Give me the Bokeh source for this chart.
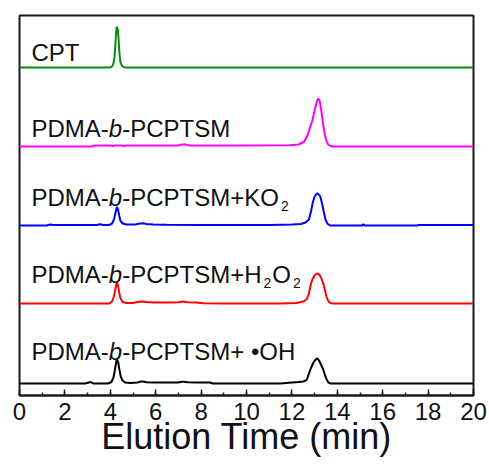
from bokeh.plotting import figure
from bokeh.models import ColumnDataSource, SingleIntervalTicker, Range1d
from bokeh.core.properties import value
from bokeh.embed import file_html
from bokeh.resources import INLINE

# ---------------- data ----------------
x_ticks_interval = 2

cpt_t = [0, 3.95, 4.05, 4.12, 4.18, 4.22, 4.26, 4.29, 4.31, 4.33, 4.36, 4.40, 4.45, 4.52, 4.62, 20]
cpt_s = [0, 0, 0.05, 0.25, 0.9, 2.2, 3.6, 4.1, 3.7, 3.9, 3.0, 1.5, 0.5, 0.15, 0, 0]

mag_t = [0, 3.2, 3.3, 4.0, 4.1, 4.2, 4.5, 4.6, 4.7, 7.0, 7.15, 7.3, 7.5, 9.5, 11.9, 12.3,
         12.55, 12.7, 12.8, 12.9, 13.0, 13.1, 13.16, 13.22, 13.3, 13.38, 13.45, 13.52,
         13.6, 13.7, 13.8, 20]
mag_s = [0, 0, 0.1, 0.1, 0.05, 0.1, 0.1, 0.05, 0.1, 0.1, 0.2, 0.2, 0.1, 0.1, 0.12, 0.2,
         0.5, 1.2, 1.9, 2.6, 3.6, 4.5, 4.8, 4.6, 3.5, 2.2, 1.2, 0.55,
         0.2, 0.05, 0, 0]

ko_t = [0, 1.2, 1.35, 1.5, 2.5, 3.4, 3.55, 3.7, 3.95, 4.08, 4.16, 4.22, 4.27, 4.3, 4.34,
        4.39, 4.45, 4.55, 4.7, 5.1, 5.3, 5.45, 5.6, 5.9, 6.5, 8.0, 9.5, 11.0, 12.0, 12.4,
        12.6, 12.75, 12.85, 12.92, 13.0, 13.08, 13.15, 13.25, 13.33, 13.4, 13.48, 13.56,
        13.66, 13.75, 15.1, 15.15, 15.2, 17.5, 17.6, 20]
ko_s = [0, 0, 0.1, 0.05, 0.05, 0.05, 0.12, 0.05, 0.05, 0.2, 0.6, 1.2, 1.7, 1.85, 1.6,
        1.0, 0.45, 0.2, 0.1, 0.1, 0.2, 0.22, 0.15, 0.1, 0.08, 0.05, 0.05, 0.05, 0.1, 0.15,
        0.3, 0.6, 1.5, 2.3, 2.9, 3.15, 3.2, 2.9, 2.2, 1.4, 0.6, 0.2,
        0.03, 0, 0, 0.12, 0, 0, 0.05, 0.05]

h2_t = [0, 2.0, 3.95, 4.08, 4.16, 4.22, 4.27, 4.3, 4.34, 4.39, 4.45, 4.55, 4.7, 5.0, 5.2,
        5.4, 5.6, 5.9, 6.5, 7.0, 7.2, 7.4, 7.8, 8.1, 9.0, 11.5, 12.2, 12.5, 12.65, 12.75,
        12.82, 12.9, 13.0, 13.08, 13.15, 13.22, 13.3, 13.38, 13.45, 13.52, 13.6, 13.7, 13.8, 20]
h2_s = [0, 0, 0, 0.2, 0.7, 1.4, 1.95, 2.1, 1.8, 1.1, 0.5, 0.15, 0.05, 0.05, 0.15,
        0.2, 0.15, 0.1, 0.1, 0.12, 0.2, 0.12, 0.1, 0.02, 0, 0, 0.05, 0.2, 0.4, 1.0,
        1.8, 2.4, 2.8, 2.95, 3.0, 2.85, 2.5, 2.0, 1.4, 0.7, 0.25, 0.05, 0, 0]

oh_t = [0, 2.9, 3.05, 3.15, 3.25, 3.9, 4.05, 4.14, 4.2, 4.25, 4.28, 4.31, 4.35, 4.4, 4.46,
        4.54, 4.65, 4.9, 5.2, 5.35, 5.45, 5.6, 5.9, 6.5, 7.0, 7.15, 7.25, 7.4, 7.8, 8.4,
        8.5, 9.5, 11.5, 12.0, 12.3, 12.5, 12.65, 12.75, 12.85, 12.95, 13.03, 13.1, 13.15,
        13.22, 13.3, 13.38, 13.45, 13.52, 13.6, 13.7, 20]
oh_s = [0, 0, 0.1, 0.15, 0, 0, 0.15, 0.6, 1.3, 2.0, 2.4, 2.3, 2.1, 1.4, 0.7,
        0.3, 0.1, 0.05, 0.1, 0.2, 0.2, 0.12, 0.1, 0.1, 0.1, 0.18, 0.18, 0.12, 0.1, 0.1,
        0, 0, 0, 0.1, 0.15, 0.2, 0.35, 1.0, 1.6, 2.1, 2.35, 2.5, 2.45,
        2.2, 1.8, 1.4, 0.9, 0.45, 0.12, 0, 0]

series_t = [cpt_t, mag_t, ko_t, h2_t, oh_t]
series_s = [cpt_s, mag_s, ko_s, h2_s, oh_s]
series_offset = [32.8, 24.9, 17.0, 9.2, 1.2]
series_color = ["#0a8a0a", "#ff00ff", "#0000ff", "#ff0000", "#000000"]

# label pieces: (text, kind) kind: n=normal, i=italic, s=subscript
labels = [
    [("CPT", "n")],
    [("PDMA-", "n"), ("b", "i"), ("-PCPTSM", "n")],
    [("PDMA-", "n"), ("b", "i"), ("-PCPTSM+KO", "n"), ("2", "s")],
    [("PDMA-", "n"), ("b", "i"), ("-PCPTSM+H", "n"), ("2", "s"), ("O", "n"), ("2", "s")],
    [("PDMA-", "n"), ("b", "i"), ("-PCPTSM+ \u2022OH", "n")],
]
label_baseline = [34.3, 26.7, 19.8, 12.1, 4.4]
label_x0 = 0.53

x_title = "Elution Time (min)"

# ---------------- figure ----------------
FW, FH = 454, 380
XMAX, YMAX = 20, 38
p = figure(frame_width=FW, frame_height=FH, output_backend="svg", toolbar_location=None,
           x_range=Range1d(0, XMAX), y_range=Range1d(0, YMAX), y_axis_location=None,
           min_border_left=19, min_border_top=15, min_border_right=15, min_border_bottom=0)
p.grid.visible = False
p.background_fill_color = "white"
p.border_fill_color = "white"
p.outline_line_color = "#1a1a1a"
p.outline_line_width = 2

for t, s, off, c in zip(series_t, series_s, series_offset, series_color):
    src = ColumnDataSource(dict(x=t, y=[v + off for v in s]))
    p.line("x", "y", source=src, line_color=c, line_width=2)

# text layout with Arial/Liberation metrics
W = {'P': 667, 'D': 722, 'M': 833, 'A': 667, '-': 333, 'b': 556, 'C': 722, 'T': 611,
     'S': 667, '+': 584, 'K': 667, 'O': 778, 'H': 722, '2': 556, '\u2022': 350, ' ': 278}
MAIN, SUB = 24, 14
pxx = XMAX / FW
pxy = YMAX / FH
groups = {"n": dict(x=[], y=[], text=[]), "i": dict(x=[], y=[], text=[]), "s": dict(x=[], y=[], text=[])}
for pieces, yb in zip(labels, label_baseline):
    cx = label_x0
    for txt, kind in pieces:
        size = SUB if kind == "s" else MAIN
        if kind == "s":
            cx += 2 * pxx
        dy = -8 * pxy if kind == "s" else 0
        groups[kind]["x"].append(cx)
        groups[kind]["y"].append(yb + dy)
        groups[kind]["text"].append(txt)
        cx += sum(W.get(ch, 600) for ch in txt) / 1000 * size * pxx
        if kind == "s":
            cx += 1 * pxx

for kind, g in groups.items():
    size = SUB if kind == "s" else MAIN
    p.text("x", "y", text="text", source=ColumnDataSource(g),
           text_font=value("Liberation Sans"), text_font_size=value(f"{size}px"),
           text_font_style="italic" if kind == "i" else "normal",
           text_color="#111111", text_baseline="alphabetic", text_align="left")

ax = p.xaxis[0]
ax.ticker = SingleIntervalTicker(interval=x_ticks_interval, num_minor_ticks=2)
ax.axis_line_width = 2
ax.axis_line_color = "#1a1a1a"
ax.major_tick_in = 6
ax.major_tick_out = 0
ax.minor_tick_in = 3
ax.minor_tick_out = 0
ax.major_tick_line_width = 1.5
ax.minor_tick_line_width = 1.5
ax.major_tick_line_color = "#1a1a1a"
ax.minor_tick_line_color = "#1a1a1a"
ax.major_label_text_font = "Liberation Sans"
ax.major_label_text_font_size = "24px"
ax.major_label_text_color = "#111111"
ax.major_label_standoff = 7
ax.axis_label = x_title
ax.axis_label_text_font = "Liberation Sans"
ax.axis_label_text_font_size = "36px"
ax.axis_label_text_font_style = "normal"
ax.axis_label_text_color = "#111111"
ax.axis_label_standoff = -7

open("out.html", "w").write(file_html(p, INLINE))
